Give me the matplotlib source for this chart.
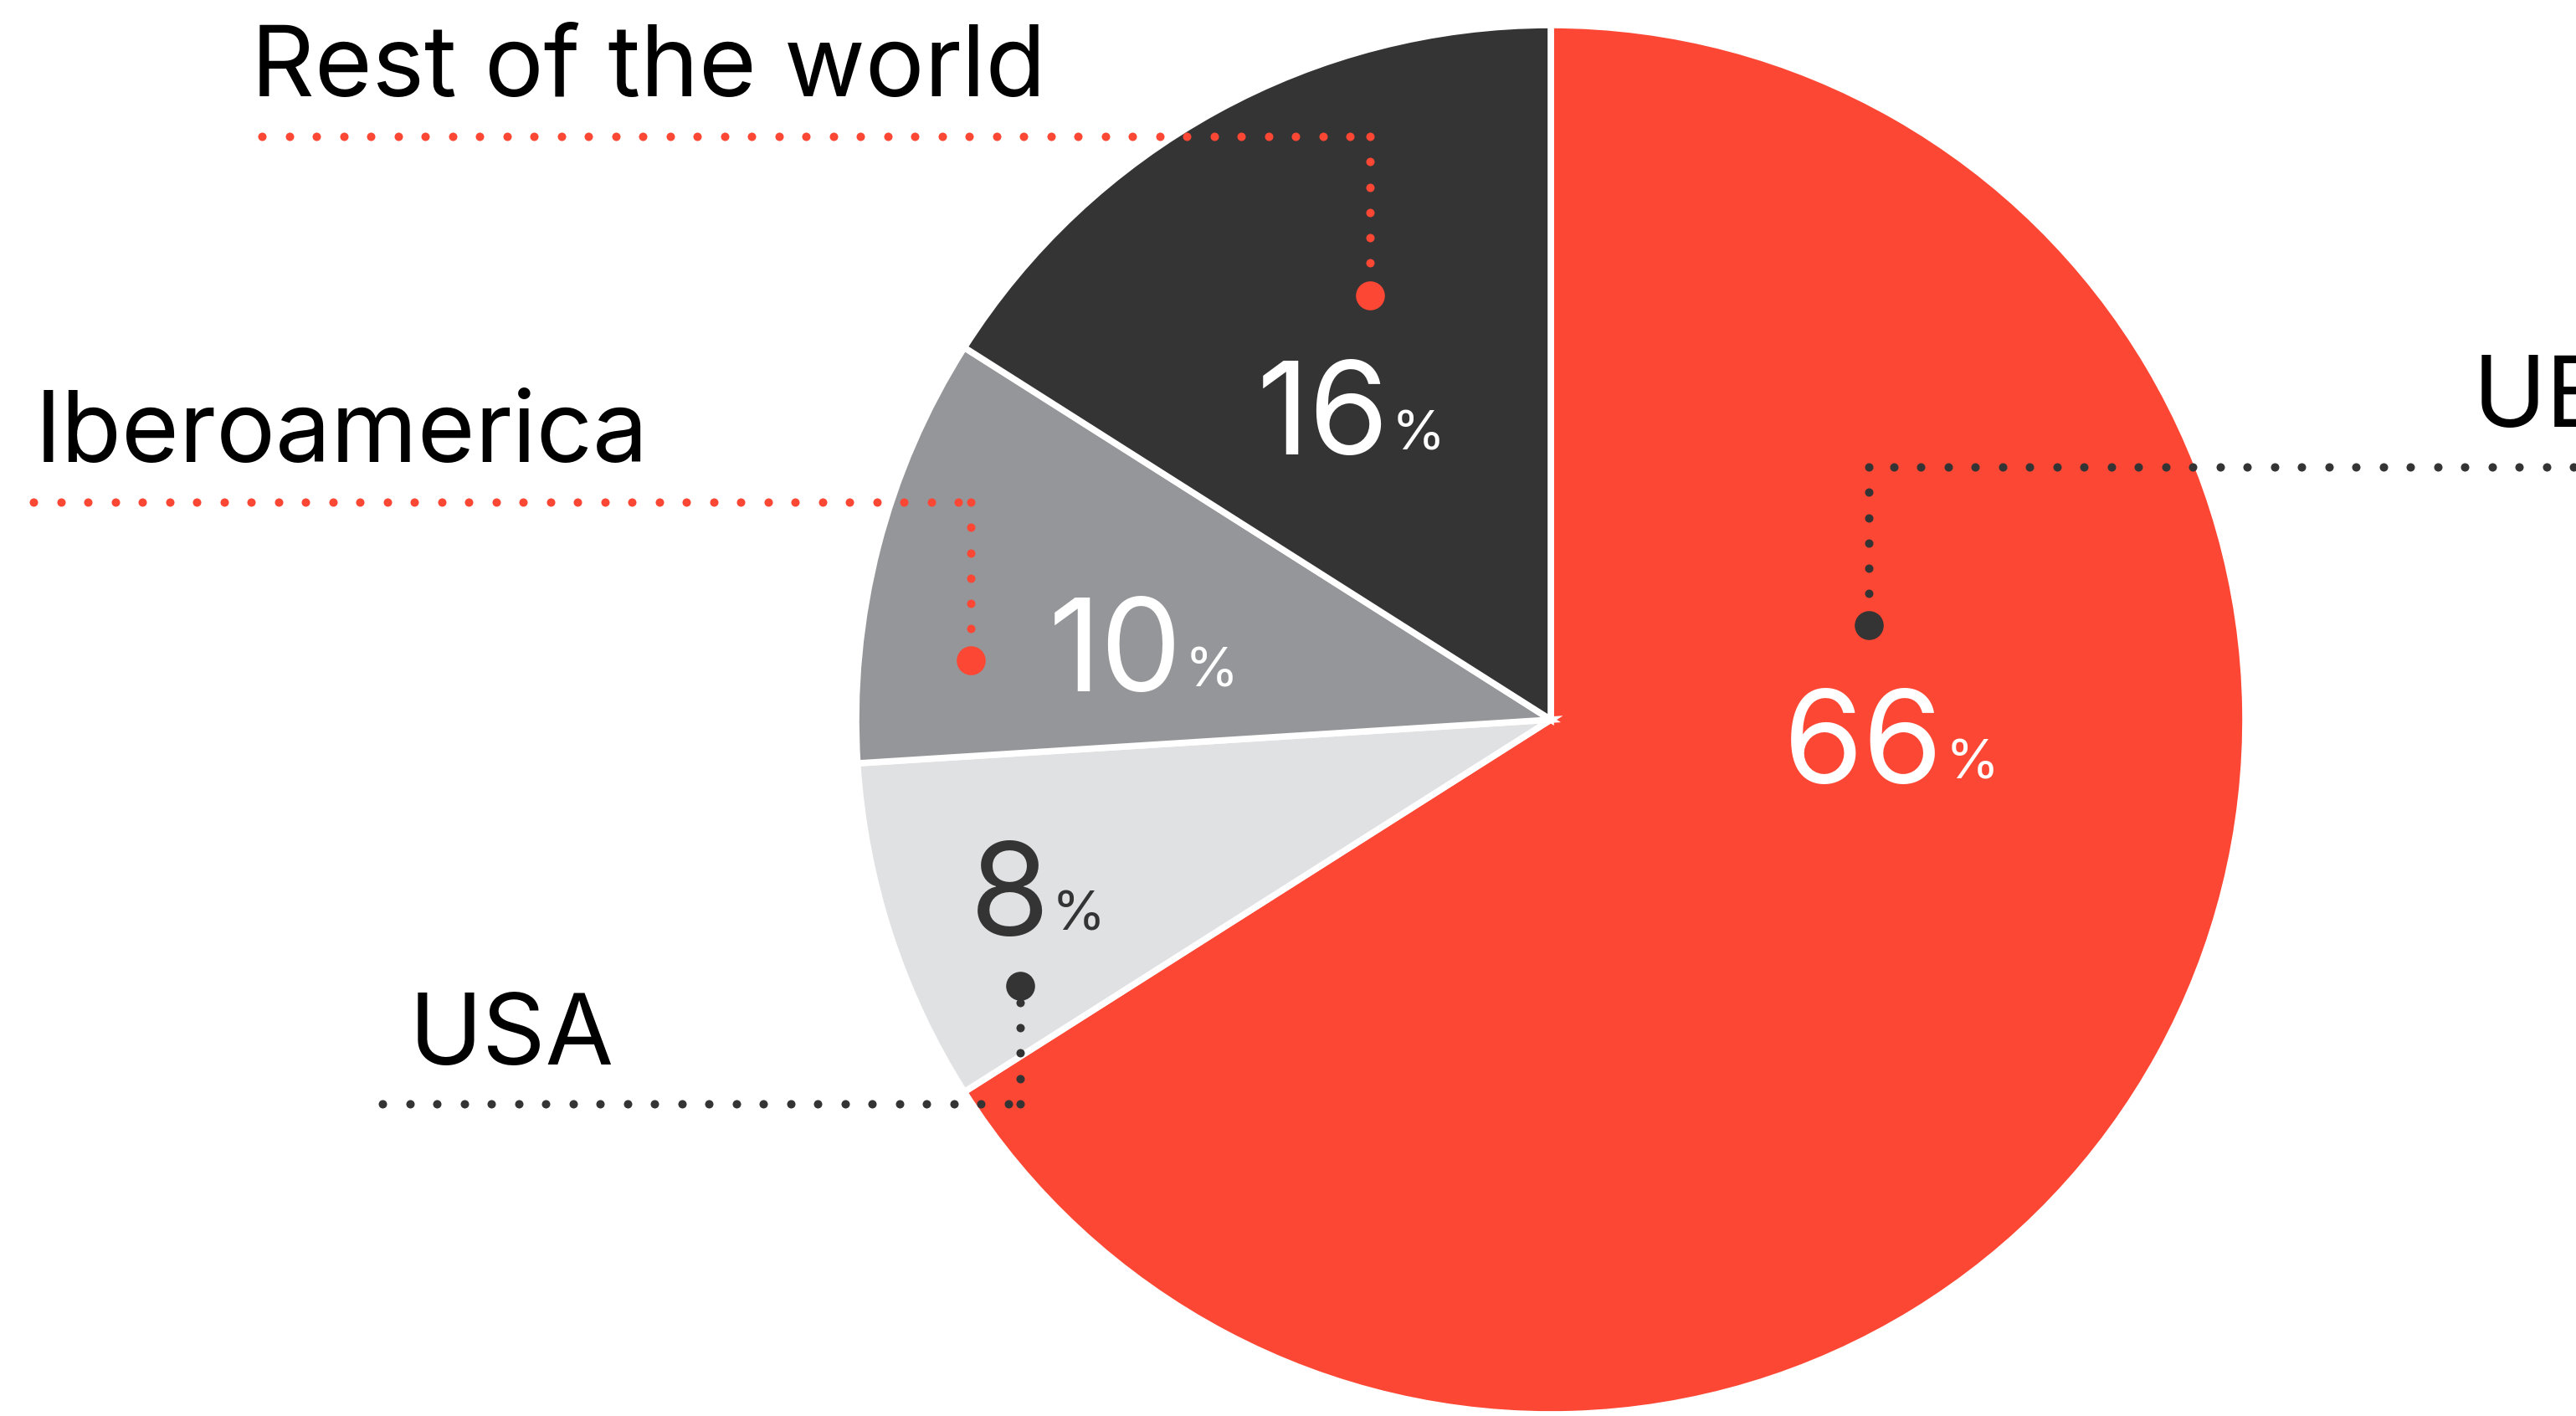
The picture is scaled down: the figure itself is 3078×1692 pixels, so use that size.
import numpy as np
import matplotlib.pyplot as plt

plt.rcParams['font.family'] = ['Inter', 'DejaVu Sans']

# shares by region, clockwise from the top
regions = ["UE", "USA", "Iberoamerica", "Rest of the world"]
shares = [66, 8, 10, 16]
colors = ["#FC4734", "#E0E1E3", "#959699", "#343434"]
value_colors = ["white", "#343434", "white", "white"]
lead_colors = ["#343434", "#343434", "#FC4734", "#FC4734"]

W, H = 3078, 1692
cx, cy, R = 1853, 860, 830

# label placement (pixel coords, y down)
name_pos = [(2955, 510), (489, 1272), (42, 552), (300, 115)]
value_pos = [(2322, 936), (1254, 1118), (1413, 826), (1660, 543)]
leaders = [
    [(3140, 558), (2233, 558), (2233, 747)],
    [(457, 1319), (1219, 1319), (1219, 1178)],
    [(40, 600), (1160, 600), (1160, 789)],
    [(313, 163), (1637, 163), (1637, 353)],
]

fig = plt.figure(figsize=(W / 100, H / 100), dpi=100)
ax = fig.add_axes([0, 0, 1, 1])

ax.pie(shares, colors=colors, startangle=-90, counterclock=True,
       center=(cx, cy), radius=R,
       wedgeprops=dict(edgecolor="white", linewidth=5.5))

ax.set_xlim(0, W)
ax.set_ylim(H, 0)
ax.set_aspect("equal")
ax.axis("off")


def dotted(path, step_h=32.5, step_v=30.3):
    pts = []
    for (x0, y0), (x1, y1) in zip(path[:-1], path[1:]):
        length = np.hypot(x1 - x0, y1 - y0)
        step = step_h if y0 == y1 else step_v
        t = np.arange(0, length, step) / length
        pts.append(np.column_stack([x0 + t * (x1 - x0), y0 + t * (y1 - y0)]))
    return np.vstack(pts)


for name, val, npos, vpos, path, vc, lc in zip(regions, shares, name_pos, value_pos,
                                                 leaders, value_colors, lead_colors):
    pts = dotted(path)
    ax.scatter(pts[:, 0], pts[:, 1], s=52, color=lc, lw=0, zorder=3)
    ex, ey = path[-1]
    ax.scatter([ex], [ey], s=620, color=lc, lw=0, zorder=4)

    ax.text(npos[0], npos[1], name, fontsize=85, color="black",
            ha="left", va="baseline")
    ax.text(vpos[0], vpos[1], str(val), fontsize=111, color=vc,
            ha="right", va="baseline")
    ax.text(vpos[0] + 3, vpos[1] - 6, "%", fontsize=47, color=vc,
            ha="left", va="baseline")

fig.savefig("out.png", dpi=100)
